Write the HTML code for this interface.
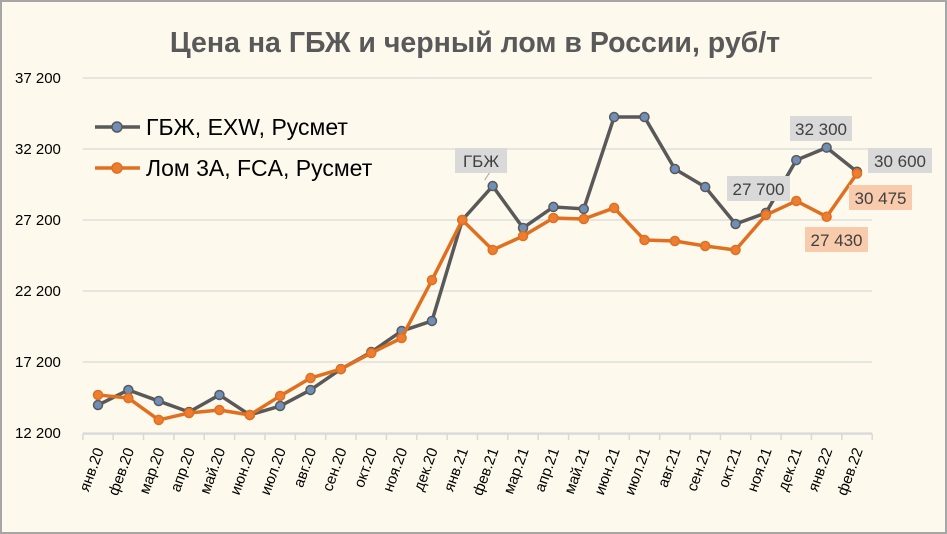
<!DOCTYPE html>
<html><head><meta charset="utf-8"><style>
body{margin:0;background:#fff;}
svg{display:block;font-family:"Liberation Sans",sans-serif;}
</style></head><body>
<svg id="c" width="947" height="534">
<rect x="1" y="1" width="945" height="532" fill="#fef9ed" stroke="#a6a6a6" stroke-width="2"/>
<text x="475" y="52" text-anchor="middle" font-size="28.5" font-weight="bold" fill="#595959">Цена на ГБЖ и черный лом в России, руб/т</text>
</svg>
<script>
const categories=["янв.20","фев.20","мар.20","апр.20","май.20","июн.20","июл.20","авг.20","сен.20","окт.20","ноя.20","дек.20","янв.21","фев.21","мар.21","апр.21","май.21","июн.21","июл.21","авг.21","сен.21","окт.21","ноя.21","дек.21","янв.22","фев.22"];
const gbzh=[14170,15230,14450,13680,14880,13470,14100,15230,16700,17900,19380,20090,27200,29590,26640,28120,27980,34450,34450,30790,29520,26920,27700,31420,32300,30600];
const lom=[14880,14660,13120,13610,13820,13470,14810,16070,16700,17830,18890,22970,27200,25090,26070,27340,27270,28050,25790,25720,25370,25090,27550,28540,27430,30475];
const yTicks=[12200,17200,22200,27200,32200,37200];
const yTickLabels=["12 200","17 200","22 200","27 200","32 200","37 200"];
const NS="http://www.w3.org/2000/svg";
const svg=document.getElementById('c');
const x0=98,dx=(857-98)/25;
const X=i=>x0+i*dx;
const Y=v=>433-(v-12200)/5000*71;
const axL=X(0)-dx/2, axR=X(categories.length-1)+dx/2;
function el(t,a,p){const e=document.createElementNS(NS,t);for(const k in a)e.setAttribute(k,a[k]);(p||svg).appendChild(e);return e;}
yTicks.forEach((v,i)=>{
 const l=el('line',{x1:axL,x2:axR,y1:Y(v),y2:Y(v),stroke:'#d9d9d9','stroke-width':1.2});
 
 
 const t=el('text',{x:15,y:Y(v)+5,'font-size':15,fill:'#000'});
 t.textContent=yTickLabels[i];
 
 
});
const ax=el('line',{x1:axL,x2:axR,y1:434,y2:434,stroke:'#d9d9d9','stroke-width':1.5});


for(let i=0;i<=categories.length;i++){
 const tk=el('line',{x1:axL+i*dx,x2:axL+i*dx,y1:434,y2:440,stroke:'#d9d9d9','stroke-width':1.5});
 
 
}
categories.forEach((c,i)=>{
 const t=el('text',{transform:`translate(${X(i)+6},450) rotate(-70)`,'text-anchor':'end','font-size':15,fill:'#000'});
 t.textContent=c;
 
 
});
function series(data,color,mfill,name){
 const p=el('polyline',{points:data.map((v,i)=>X(i)+','+Y(v)).join(' '),fill:'none',stroke:color,'stroke-width':3.5,'stroke-linejoin':'round'});
 
 
 data.forEach((v,i)=>{
  const c=el('circle',{cx:X(i),cy:Y(v),r:4.5,fill:mfill,stroke:color,'stroke-width':1.5});
  
  
 });
}
series(gbzh,'#595959','#6f8fb8','gbzh');
series(lom,'#e07020','#ed7d31','lom');
[['ГБЖ, EXW, Русмет','#595959','#6f8fb8',127],['Лом 3А, FCA, Русмет','#e07020','#ed7d31',168]].forEach(([t,c,f,y])=>{
 const l=el('line',{x1:95,x2:140,y1:y,y2:y,stroke:c,'stroke-width':3.5});
 
 
 const m=el('circle',{cx:117,cy:y,r:5,fill:f,stroke:c,'stroke-width':1.5});
 
 
 const tx=el('text',{x:146,y:y+8,'font-size':23,fill:'#000'});
 tx.textContent=t;
 
 
});
function lbl(text,x,y,w,bg){
 const g=el('g',{});
 
 
 el('rect',{x:x,y:y,width:w,height:25,fill:bg},g);
 const t=el('text',{x:x+w/2,y:y+19,'text-anchor':'middle','font-size':17,fill:'#404040'},g);
 t.textContent=text;
}
const cl=el('line',{x1:X(13)-8,y1:Y(gbzh[13])-6,x2:490,y2:172,stroke:'#a6a6a6','stroke-width':1});


lbl('ГБЖ',455,148,52,'#d9d9d9');
lbl('27 700',727,176,63,'#d9d9d9');
lbl('32 300',790,116,62,'#d9d9d9');
lbl('30 600',868,148,64,'#d9d9d9');
lbl('30 475',849,185,63,'#f8cbad');
lbl('27 430',805,227,63,'#f8cbad');
</script>
</body></html>
